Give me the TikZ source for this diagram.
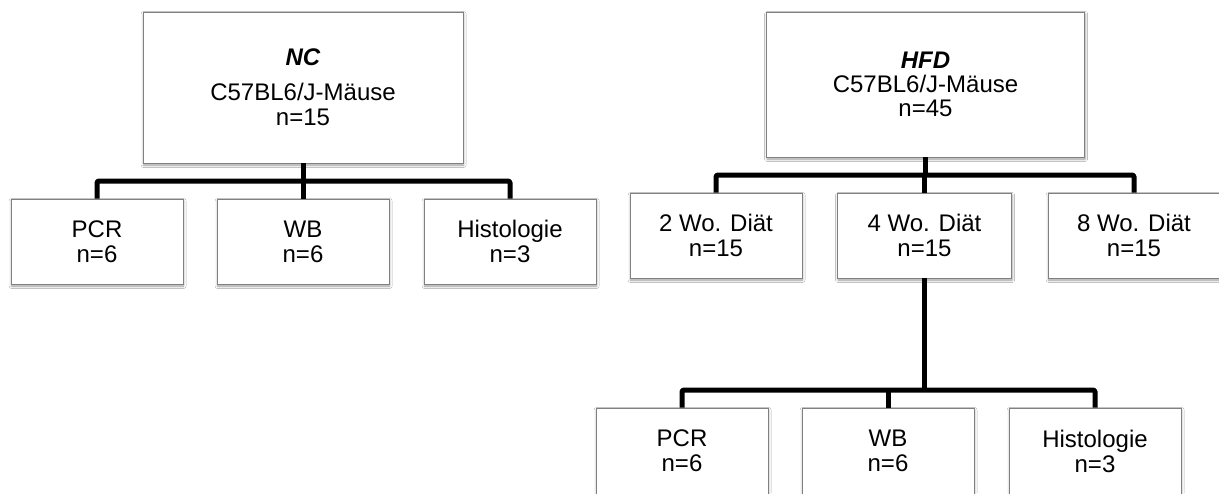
\documentclass[tikz,border=0pt]{standalone}
\usepackage{fontspec}
\setmainfont{Liberation Sans}
\usetikzlibrary{shadows.blur}

\begin{document}
\begin{tikzpicture}[x=1pt,y=-1pt,
  box/.style={draw=black!50, line width=0.9pt, fill=white, inner sep=0pt,
    align=center, font=\fontsize{24}{25}\selectfont,
    blur shadow={shadow xshift=0.6pt, shadow yshift=-2pt,
      shadow blur radius=2.5pt, shadow opacity=40}},
  leaf/.style={box, minimum width=172pt, minimum height=85pt},
  conn/.style={line width=5pt, line join=round, rounded corners=1.5pt}]
\clip (0,0) rectangle (1219,493);
\fill[white] (0,0) rectangle (1219,493);

% ---- control group ----
\node[box, minimum width=320pt, minimum height=151pt] (nc) at (303,87.5)
  {\bfseries\itshape NC\\[10pt] C57BL6/J-Mäuse\\ n=15};
\node[leaf] (ncpcr)  at (97,241.5)  {PCR\\ n=6};
\node[leaf] (ncwb)   at (303,241.5) {WB\\ n=6};
\node[leaf] (nchist) at (510,241.5) {Histologie\\ n=3};

% ---- high-fat diet group ----
\node[box, minimum width=318pt, minimum height=145pt] (hfd) at (925.5,84.5)
  {\bfseries\itshape HFD\\[-1pt] C57BL6/J-Mäuse\\[-1pt] n=45};
\node[leaf] (wo2) at (716,235.5)  {2 Wo. Diät\\ n=15};
\node[leaf, minimum width=174pt] (wo4) at (924.5,235.5) {4 Wo. Diät\\ n=15};
\node[leaf] (wo8) at (1134,235.5) {8 Wo. Diät\\ n=15};

\node[leaf, minimum height=86pt] (hpcr)  at (682,451)  {PCR\\ n=6};
\node[leaf, minimum height=86pt] (hwb)   at (888,451)  {WB\\ n=6};
\node[leaf, minimum height=86pt] (hhist) at (1095,451) {Histologie\\ n=3};

% ---- junction points of the tree ----
\coordinate (ncbar)  at (nc.south |- 0,181);
\coordinate (hfdbar) at (hfd.south |- 0,175);
\coordinate (wobar)  at (wo4.south |- 0,390);

% ---- connectors ----
\draw[conn] (nc.south) -- (ncbar);
\draw[conn] (ncpcr.north) |- (ncbar) -| (nchist.north);
\draw[conn] (ncwb.north) -- (ncwb.north |- ncbar);

\draw[conn] (hfd.south) -- (hfdbar);
\draw[conn] (wo2.north) |- (hfdbar) -| (wo8.north);
\draw[conn] (wo4.north) -- (wo4.north |- hfdbar);

\draw[conn] (wo4.south) -- (wobar);
\draw[conn] (hpcr.north) |- (wobar) -| (hhist.north);
\draw[conn] (hwb.north) -- (hwb.north |- wobar);
\end{tikzpicture}
\end{document}
